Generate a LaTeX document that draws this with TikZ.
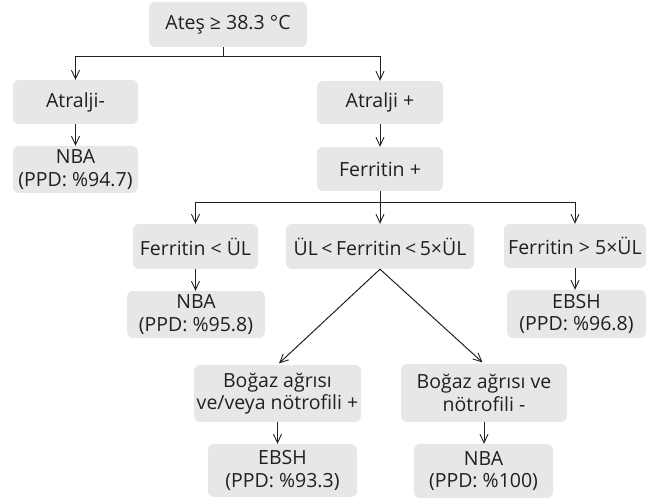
\documentclass[tikz,border=0pt]{standalone}
\usepackage{fontspec}
\setmainfont{Open Sans}
\usetikzlibrary{arrows.meta}
\definecolor{boxgray}{HTML}{E6E7E8}
\definecolor{txt}{HTML}{231F20}
\newcommand{\lsp}{\hspace{3.5pt}}
\begin{document}
\begin{tikzpicture}[x=1pt,y=-1pt,
  box/.style={fill=boxgray, rounded corners=6pt, inner sep=0pt, align=center, text=txt,
    font=\fontsize{19.5}{22.5}\selectfont},
  conn/.style={draw=txt, line width=1pt},
  arr/.style={conn, -{Straight Barb[length=8.5pt,width=8pt,line width=0.9pt]}}]
\useasboundingbox (0,0) rectangle (649,502);
% nodes
\node[box, minimum width=158pt, minimum height=45pt] (top) at (228,24.5) {Ateş ≥ 38.3 °C};
\node[box, minimum width=125pt, minimum height=44pt] (atm) at (75.5,102) {Atralji-};
\node[box, minimum width=125pt, minimum height=47pt] (nba1) at (75.5,169.5) {NBA\\(PPD: \%94.7)};
\node[box, minimum width=126pt, minimum height=43pt] (atp) at (380,102.5) {Atralji +};
\node[box, minimum width=126pt, minimum height=44pt] (fer) at (380,169) {Ferritin +};
\node[box, minimum width=125pt, minimum height=45pt] (f1) at (195.5,246.5) {Ferritin < ÜL};
\node[box, minimum width=188pt, minimum height=45pt] (f2) at (380,246.5) {ÜL\lsp<\lsp Ferritin\lsp<\lsp 5×ÜL};
\node[box, minimum width=142pt, minimum height=44pt] (f3) at (575,246) {Ferritin > 5×ÜL};
\node[box, minimum width=138pt, minimum height=47pt] (nba2) at (196,314.5) {NBA\\(PPD: \%95.8)};
\node[box, minimum width=139pt, minimum height=48pt] (ebsh1) at (576.5,314) {EBSH\\(PPD: \%96.8)};
\node[box, minimum width=167pt, minimum height=57pt] (b1) at (277.5,393.5) {Boğaz ağrısı\\ve/veya nötrofili +};
\node[box, minimum width=166pt, minimum height=58pt] (b2) at (484,393) {Boğaz ağrısı ve\\nötrofili -};
\node[box, minimum width=149pt, minimum height=53pt] (ebsh2) at (282.5,470.5) {EBSH\\(PPD: \%93.3)};
\node[box, minimum width=139pt, minimum height=54pt] (nba3) at (483.5,471) {NBA\\(PPD: \%100)};
% junctions
\coordinate (j1) at (223,57);
\coordinate (j2) at (380,203);
% connectors
\draw[conn] (top.south -| j1) -- (j1);
\draw[arr] (j1) -| (atm.north);
\draw[arr] (j1) -| (atp.north);
\draw[arr] (atm) -- (nba1);
\draw[arr] (atp) -- (fer);
\draw[conn] (fer.south) -- (j2);
\draw[arr] (j2) -| (f1.north);
\draw[arr] (j2) -- (f2.north);
\draw[arr] (j2) -| (f3.north);
\draw[arr] (f1) -- (nba2.north -| f1);
\draw[arr] (f3) -- (ebsh1.north -| f3);
\draw[arr, shorten >=2pt] (f2.south) -- (b1.north);
\draw[arr, shorten >=2pt] (f2.south) -- (b2.north);
\draw[arr] (b1) -- (ebsh2.north -| b1);
\draw[arr] (b2) -- (nba3.north -| b2);
\end{tikzpicture}
\end{document}
